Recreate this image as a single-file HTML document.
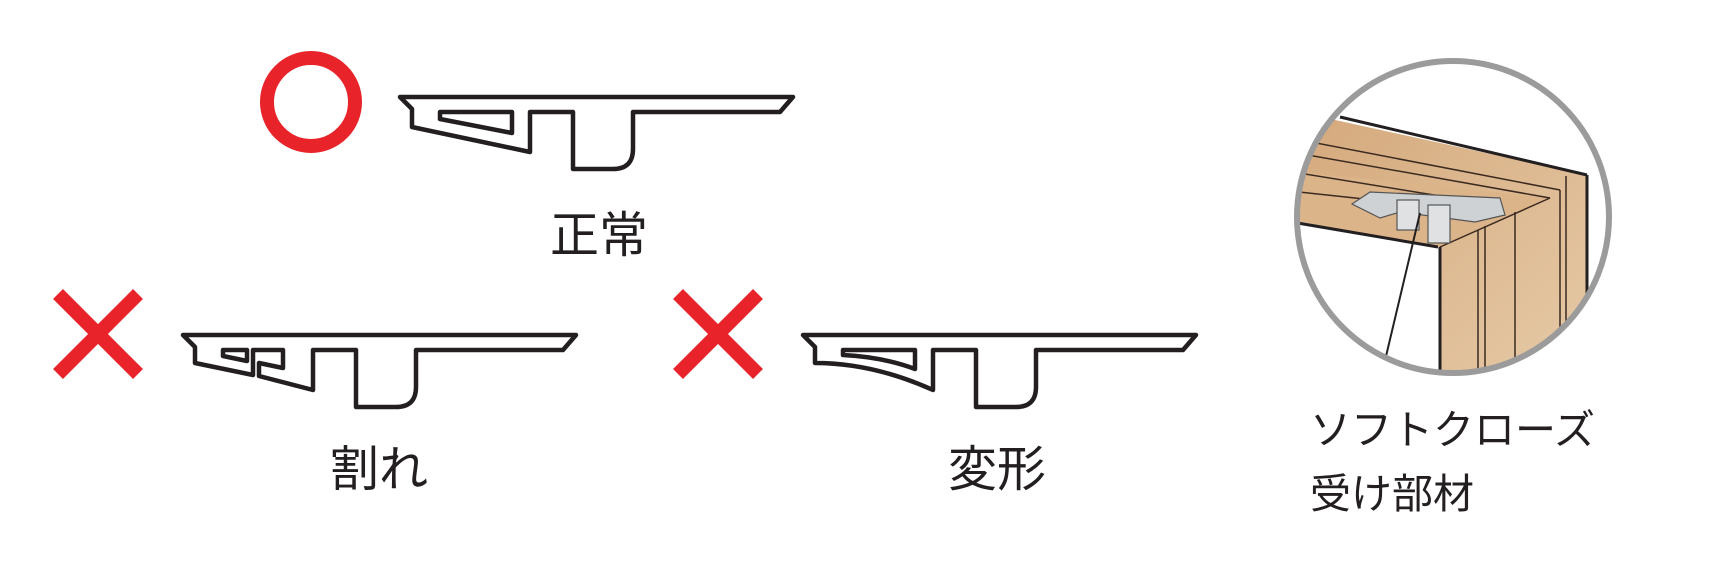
<!DOCTYPE html>
<html><head><meta charset="utf-8"><style>
html,body{margin:0;padding:0;background:#fff;}
svg{display:block;}
text{font-family:"Liberation Sans","Noto Sans CJK JP",sans-serif;fill:#231f20;}
</style></head><body>
<svg width="1728" height="576" viewBox="0 0 1728 576" xmlns="http://www.w3.org/2000/svg">
<defs>
<clipPath id="cc"><circle cx="1453" cy="217" r="155"/></clipPath>
<linearGradient id="wood" x1="0" y1="0" x2="1" y2="1">
<stop offset="0" stop-color="#d4a77a"/><stop offset="1" stop-color="#e6cba8"/></linearGradient>
</defs>
<circle cx="311" cy="102" r="44" fill="none" stroke="#e8242a" stroke-width="14"/>
<g stroke="#e8242a" stroke-width="14">
<line x1="58" y1="294" x2="138" y2="374"/><line x1="138" y1="294" x2="58" y2="374"/>
<line x1="678" y1="294" x2="758" y2="374"/><line x1="758" y1="294" x2="678" y2="374"/>
</g>
<g fill="none" stroke="#231f20" stroke-width="4.5" stroke-linejoin="round">
<g transform="translate(400,97)">
<path d="M0,0 L393,0 L380,15 L233,15 L233,52 Q233,72 213,72 L173,72 L173,15 L130,15 L130,55 L12,30 L12,12 Z"/>
<path d="M40,15 L112,15 L112,36 L40,22 Z"/>
</g>
<g transform="translate(183,335)">
<path d="M0,0 L393,0 L380,15 L233,15 L233,52 Q233,72 213,72 L173,72 L173,15 L130,15 L130,55 L76,41 L76,28 L100,33 L100,15 L70,15 L70,40 L12,28 L12,12 Z"/>
<path d="M40,15 L64,15 L64,26 L40,21 Z"/>
</g>
<g transform="translate(803,335)">
<path d="M0,0 L393,0 L380,15 L233,15 L233,52 Q233,72 213,72 L173,72 L173,15 L130,15 L130,55 Q70,28 12,28 L12,12 Z"/>
<path d="M40,15 L112,15 L112,34 Q80,22 40,20 Z"/>
</g>
</g>
<text x="550" y="252" font-size="49">正常</text>
<text x="330" y="486" font-size="49">割れ</text>
<text x="948" y="486" font-size="49">変形</text>
<text x="1310" y="444" font-size="41">ソフトクローズ</text>
<text x="1310" y="508" font-size="41">受け部材</text>
<g clip-path="url(#cc)">
<polygon points="1280,108 1587,175 1587,400 1440,400 1440,247 1280,218" fill="url(#wood)"/>
<polygon points="1280,170 1550,198 1440,247 1280,218" fill="#dcb48a"/>
<g stroke="#3a2a20" stroke-width="1.5" fill="none">
<line x1="1280" y1="136" x2="1560" y2="190"/>
<line x1="1280" y1="150" x2="1550" y2="198"/>
<line x1="1280" y1="170" x2="1440" y2="196"/>
<line x1="1280" y1="190" x2="1420" y2="205"/>
<line x1="1550" y1="198" x2="1440" y2="247"/>
<line x1="1478" y1="230" x2="1478" y2="400"/>
<line x1="1485" y1="226" x2="1485" y2="400"/>
<line x1="1515" y1="212" x2="1515" y2="400"/>
<line x1="1560" y1="190" x2="1560" y2="400"/>
<line x1="1566" y1="176" x2="1566" y2="400"/>
</g>
<line x1="1340" y1="117" x2="1587" y2="175" stroke="#231f20" stroke-width="3"/>
<line x1="1587" y1="175" x2="1587" y2="400" stroke="#231f20" stroke-width="3"/>
<line x1="1280" y1="220" x2="1438" y2="247" stroke="#231f20" stroke-width="3"/>
<line x1="1440" y1="247" x2="1440" y2="400" stroke="#231f20" stroke-width="3"/>
<polygon points="1352,204 1370,192 1500,198 1505,215 1475,222 1400,212 1380,218" fill="#cfd2d4" stroke="#555" stroke-width="1.2"/>
<rect x="1397" y="200" width="22" height="30" fill="#dfe1e3" stroke="#555" stroke-width="1.2"/>
<rect x="1428" y="205" width="22" height="38" fill="#dfe1e3" stroke="#555" stroke-width="1.2"/>
<line x1="1420" y1="213" x2="1378" y2="390" stroke="#231f20" stroke-width="2"/>
</g>
<circle cx="1453" cy="217" r="156" fill="none" stroke="#9b9b9b" stroke-width="6"/>
</svg>
</body></html>
